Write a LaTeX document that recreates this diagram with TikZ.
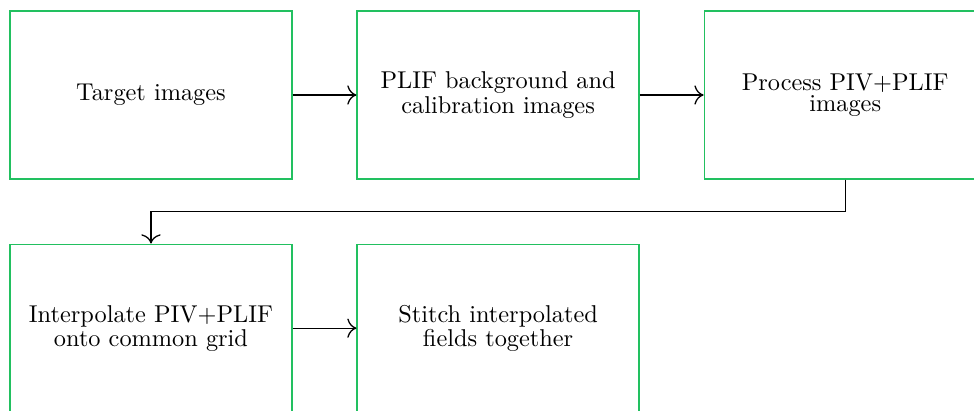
\documentclass[tikz,border=0pt]{standalone}
\usepackage{tikz}
\usetikzlibrary{positioning,arrows.meta}
\definecolor{StageGreen}{HTML}{22C060}

\begin{document}
\begin{tikzpicture}[x=0.4274pt, y=-0.4274pt, node distance=27.3pt, every node/.style={font=\fontsize{10.4}{8.8}\selectfont}]
\tikzstyle{stage}=[draw=StageGreen, line width=0.55pt, minimum width=120.5pt, minimum height=71.8pt, align=center]
\tikzstyle{flow}=[-{To[scale=1.4]}, line width=0.55pt]
\useasboundingbox (0,0) rectangle (974,410);
\node[stage] (target) at (151,95) {Target images};
\node[stage, right=of target] (calib) {PLIF background and\\calibration images};
\node[stage, right=of calib] (process) {Process PIV+PLIF\\images};
\node[stage, below=of target] (interp) {Interpolate PIV+PLIF\\onto common grid};
\node[stage, right=of interp] (stitch) {Stitch interpolated\\fields together};
\draw[flow] (target)--(calib);
\draw[flow] (calib)--(process);
\draw[flow] (process.south)--++(0,-13.7pt)-|(interp.north);
\draw[flow] (interp)--(stitch);
\end{tikzpicture}
\end{document}
